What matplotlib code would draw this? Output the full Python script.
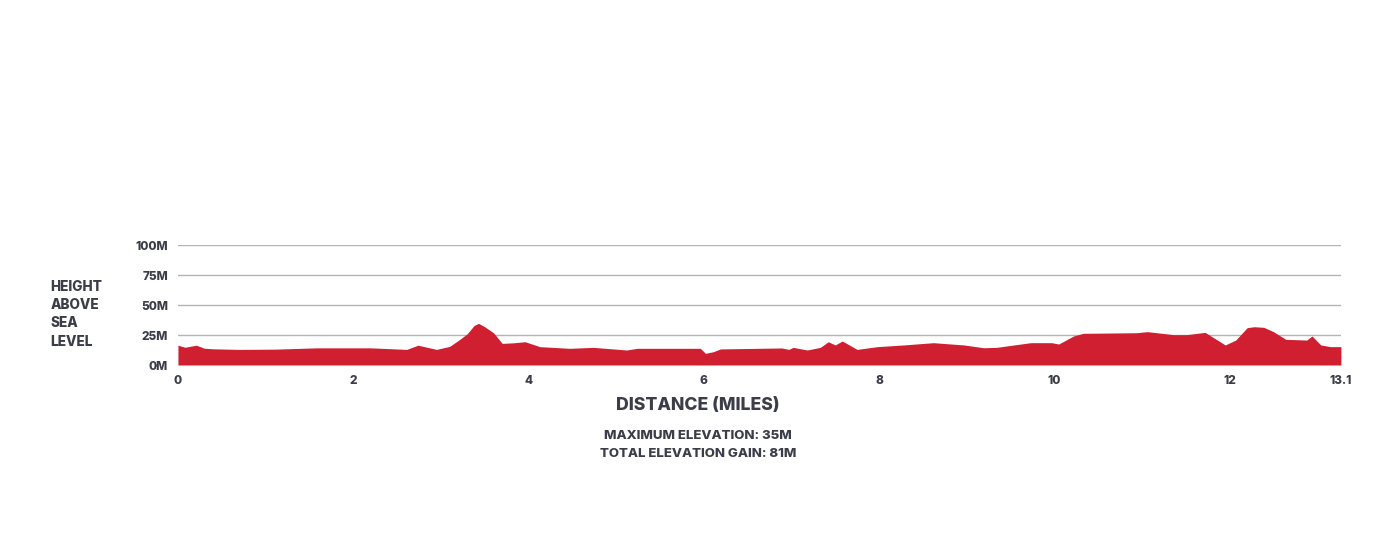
import numpy as np
import matplotlib
matplotlib.use("Agg")
import matplotlib.pyplot as plt

# 고도 프로파일 (마일, 미터) - 그림에서 눈으로 읽은 값
miles = [0.00, 0.08, 0.21, 0.30, 0.40, 0.70, 1.10, 1.58, 2.20, 2.61, 2.74, 2.95,
         3.10, 3.20, 3.30, 3.38, 3.43, 3.50, 3.60, 3.70, 3.83, 3.96, 4.13, 4.47, 4.74,
         5.12, 5.24, 5.96, 6.02, 6.11, 6.19, 6.89, 6.97, 7.02, 7.18, 7.33, 7.42,
         7.50, 7.58, 7.75, 7.98, 8.28, 8.62, 8.97, 9.19, 9.34, 9.73, 9.97, 10.05,
         10.22, 10.33, 10.94, 11.06, 11.36, 11.51, 11.72, 11.95, 12.07, 12.20,
         12.28, 12.39, 12.50, 12.64, 12.88, 12.94, 13.04, 13.15, 13.27]
elev = [16.5, 14.8, 16.5, 14.0, 13.5, 13.0, 13.2, 14.3, 14.3, 13.0, 16.5, 13.0,
        15.5, 20.5, 26.0, 33.0, 34.7, 31.9, 26.9, 18.0, 18.5, 19.4, 15.3, 13.9, 14.7,
        12.5, 13.9, 13.9, 9.7, 11.1, 13.4, 14.2, 13.0, 14.7, 12.5, 14.7, 19.4,
        16.7, 20.0, 13.0, 15.3, 16.7, 18.6, 16.7, 14.4, 14.7, 18.6, 18.6, 17.5,
        24.2, 26.4, 26.9, 27.8, 25.3, 25.3, 27.2, 16.7, 20.8, 31.1,
        31.9, 31.4, 27.8, 21.4, 20.8, 24.2, 16.7, 15.3, 15.3]

xtick_pos = [0, 2, 4, 6, 8, 10, 12, 13.27]
xtick_labels = ["0", "2", "4", "6", "8", "10", "12", "13.1"]
ytick_pos = [0, 25, 50, 75, 100]
ytick_labels = ["0M", "25M", "50M", "75M", "100M"]

RED = "#cf1f31"
TXT = "#3b3e48"
W = 800
plt.rcParams['font.family'] = ['Inter', 'DejaVu Sans']

fig = plt.figure(figsize=(14, 5.6), dpi=100)
ax = fig.add_axes([0.1271, 0.3482, 0.8307, 0.2143])

ax.fill_between(miles, 0, elev, color=RED, linewidth=0, zorder=3)

ax.set_xlim(0, 13.27)
ax.set_ylim(0, 100)
for y in ytick_pos[1:]:
    ax.axhline(y, color="#b4b4b4", linewidth=1, zorder=1)

ax.set_xticks(xtick_pos)
ax.set_xticklabels(xtick_labels)
ax.set_yticks(ytick_pos)
ax.set_yticklabels(ytick_labels)
ax.tick_params(length=0, labelsize=8.5, labelcolor=TXT, pad=7)
for lab in ax.get_xticklabels() + ax.get_yticklabels():
    lab.set_fontweight(W)
for s in ax.spines.values():
    s.set_visible(False)

fig.text(0.036, 0.5, "HEIGHT\nABOVE\nSEA\nLEVEL", ha='left', va='top',
         fontsize=9.8, fontweight=W, color=TXT, linespacing=1.38)
fig.text(0.4985, 0.276, "DISTANCE (MILES)", ha='center', va='center',
         fontsize=12.7, fontweight=W, color=TXT)
fig.text(0.4985, 0.221, "MAXIMUM ELEVATION: 35M", ha='center', va='center',
         fontsize=9.5, fontweight=W, color=TXT)
fig.text(0.4985, 0.190, "TOTAL ELEVATION GAIN: 81M", ha='center', va='center',
         fontsize=9.5, fontweight=W, color=TXT)

fig.savefig("out.png", dpi=100, facecolor="white")
